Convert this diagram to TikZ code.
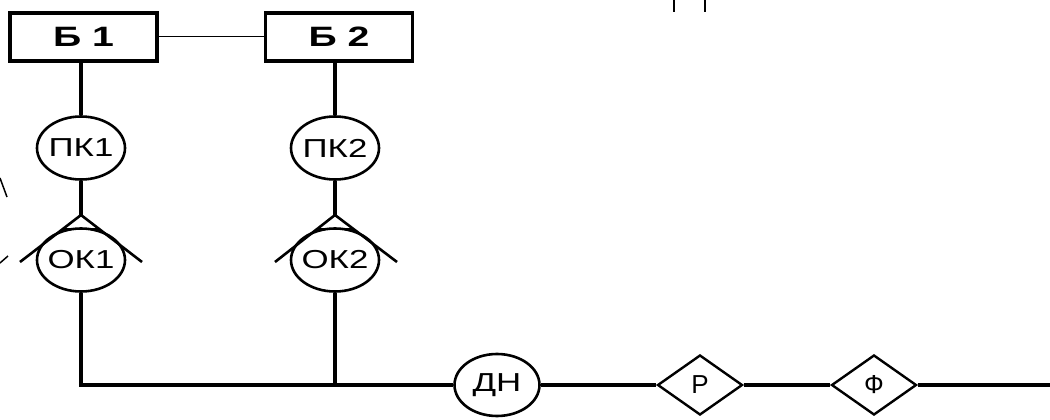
\documentclass[tikz,border=0pt]{standalone}
\usepackage{fontspec}
\setmainfont{Liberation Sans}
\newfontfamily\widefont[FakeStretch=1.4]{Liberation Sans}
\newfontfamily\ovalfont[FakeStretch=1.34]{Liberation Sans}
\usetikzlibrary{shapes.geometric}
\begin{document}
\begin{tikzpicture}[x=1pt,y=-1pt,
  boxnode/.style={draw,line width=3.2pt,minimum width=147pt,minimum height=48pt,inner sep=0pt,font=\widefont\fontsize{28}{30}\selectfont\bfseries},
  ovalnode/.style={draw,ellipse,line width=2.6pt,minimum width=88pt,minimum height=63pt,inner xsep=-5pt,inner ysep=0pt,font=\ovalfont\fontsize{26}{28}\selectfont},
  dianode/.style={draw,diamond,line width=2.4pt,minimum width=85pt,minimum height=60pt,inner sep=0pt,font=\fontsize{26}{28}\selectfont},
  thick line/.style={line width=3.4pt},
  foot/.style={line width=2.6pt}]
\useasboundingbox (0,0) rectangle (1050,420);
\fill[white] (0,0) rectangle (1050,420);
% boxes
\node[boxnode] (b1) at (83.5,37) {Б 1};
\node[boxnode] (b2) at (339,37) {Б 2};
\draw[line width=1pt] (b1.east) -- (b2.west);
% ovals
\node[ovalnode] (pk1) at (81,148) {ПК1};
\node[ovalnode] (pk2) at (335,148) {ПК2};
\node[ovalnode] (ok1) at (81,260) {ОК1};
\node[ovalnode] (ok2) at (335,260) {ОК2};
\node[ovalnode,minimum width=85pt,minimum height=62pt] (dn) at (497,385) {ДН};
\node[dianode] (r) at (700,385) {Р};
\node[dianode] (f) at (874,385) {Ф};
% crow's feet
\coordinate (a1) at (81,215);
\coordinate (l1) at (20,262);
\coordinate (r1) at (142,262);
\coordinate (a2) at (335,215);
\coordinate (l2) at (275,262);
\coordinate (r2) at (397,262);
\draw[thick line] (b1.south -| pk1.north) -- (pk1.north);
\draw[thick line] (b2.south -| pk2.north) -- (pk2.north);
\draw[thick line] (pk1.south) -- (a1);
\draw[thick line] (pk2.south) -- (a2);
\draw[foot] (l1) -- (a1) -- (r1);
\draw[foot] (l2) -- (a2) -- (r2);
\draw[foot] (62,229) -- (99,229);
\draw[foot] (317,229) -- (353.5,229);
% bus
\coordinate (c1) at (81,385);
\coordinate (j2) at (335,385);
\coordinate (bend) at (1050,385);
\draw[thick line] (ok1.south) -- (c1) -- (dn.west);
\draw[thick line] (ok2.south) -- (j2);
\draw[thick line] (dn.east) -- (r.west);
\draw[thick line] (r.east) -- (f.west);
\draw[thick line] (f.east) -- (bend);
% edge fragments
\draw[line width=1.5pt] (0,178) -- (7,197);
\draw[line width=1.5pt] (0,263) -- (8,256);
\draw[line width=1.8pt] (674,0) -- (674,12);
\draw[line width=1.8pt] (705,0) -- (705,12);
\end{tikzpicture}
\end{document}
